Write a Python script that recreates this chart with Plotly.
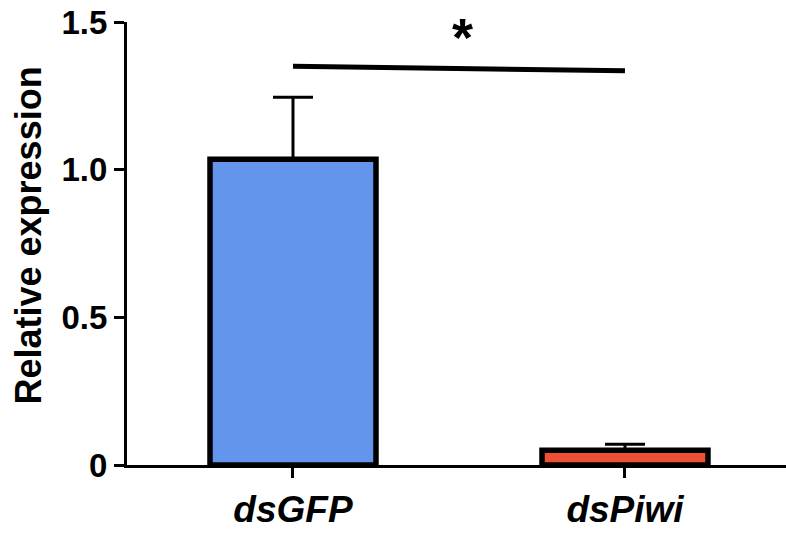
import plotly.graph_objects as go

categories = ["dsGFP", "dsPiwi"]
values = [1.035, 0.05]
errors_up = [0.21, 0.02]
bar_colors = ["#6495ED", "#EF5033"]
y_tickvals = [0, 0.5, 1.0, 1.5]
y_ticktext = ["0", "0.5", "1.0", "1.5"]
sig_line = {"x": [0, 1], "y": [1.35, 1.335]}
sig_label = "*"
y_title = "Relative expression"

FONT = "Liberation Sans, Arial, sans-serif"

fig = go.Figure()
fig.add_trace(go.Bar(
    x=[0, 1], y=values, width=0.5,
    marker=dict(color=bar_colors, line=dict(color="black", width=5.5)),
    error_y=dict(type="data", symmetric=False, array=errors_up,
                 arrayminus=[0, 0], color="black", thickness=3, width=20),
))

fig.add_shape(type="line", xref="x", yref="y",
              x0=sig_line["x"][0], y0=sig_line["y"][0],
              x1=sig_line["x"][1], y1=sig_line["y"][1],
              line=dict(color="black", width=5))
fig.add_annotation(x=0.51, y=1.45, xref="x", yref="y", text=sig_label,
                   showarrow=False, font=dict(family=FONT, size=54, color="black", weight="bold"))
fig.add_annotation(x=(29 - 127) / 659, y=0.518, xref="paper", yref="paper",
                   text=y_title, textangle=-90, showarrow=False,
                   xanchor="center", yanchor="middle",
                   font=dict(family=FONT, size=36, color="black", weight="bold"))

fig.update_layout(
    width=786, height=534,
    margin=dict(l=127, r=0, t=22, b=69, autoexpand=False),
    paper_bgcolor="white", plot_bgcolor="white",
    showlegend=False,
    xaxis=dict(range=[-0.5, 1.485], tickvals=[0, 1], ticktext=categories,
               showline=True, linecolor="black", linewidth=3,
               ticks="outside", ticklen=10, tickwidth=3, tickcolor="black",
               showgrid=False, zeroline=False, automargin=False,
               tickfont=dict(family=FONT, size=37, color="black", weight="bold", style="italic")),
    yaxis=dict(range=[0, 1.5], tickvals=y_tickvals, ticktext=y_ticktext,
               showline=True, linecolor="black", linewidth=3,
               ticks="outside", ticklen=10, tickwidth=3, tickcolor="black",
               showgrid=False, zeroline=False, ticklabeloverflow="allow",
               automargin=False,
               tickfont=dict(family=FONT, size=33, color="black", weight="bold")),
)

fig.write_html("out.html", config={"displayModeBar": False},
               post_script="document.body.style.margin='0';")
